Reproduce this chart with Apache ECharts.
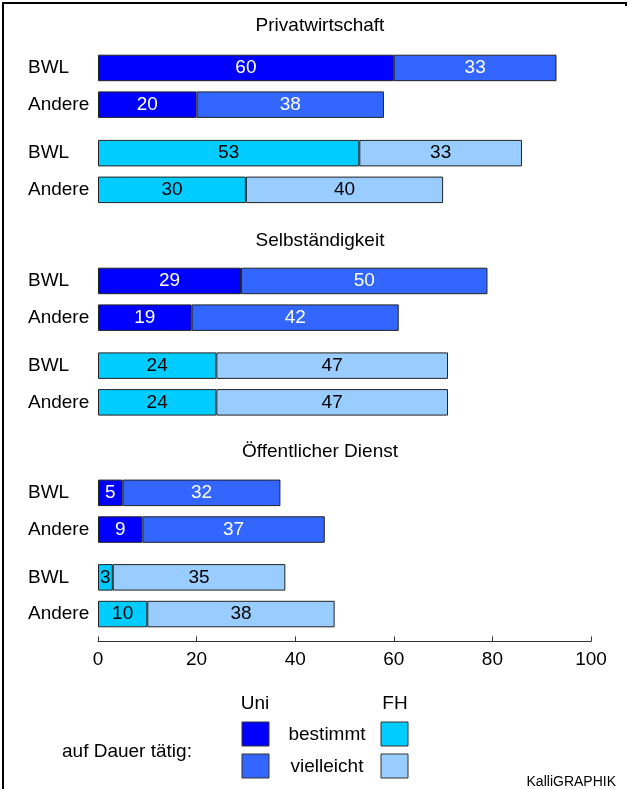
<!DOCTYPE html>
<html>
<head>
<meta charset="utf-8">
<script src="https://cdn.jsdelivr.net/npm/echarts@6/dist/echarts.min.js"></script>
<style>
  html, body { margin: 0; padding: 0; background: #fff; }
  #chart { width: 628px; height: 789px; }
</style>
</head>
<body>
<div id="chart"></div>
<script>
// Kategorien
const groupTitles = ['Privatwirtschaft', 'Selbständigkeit', 'Öffentlicher Dienst'];
const rowLabels = ['BWL', 'Andere'];

// Werte: je Gruppe BWL, Andere
const uniBestimmt   = [60, 20, 29, 19, 5, 9];
const uniVielleicht = [33, 38, 50, 42, 32, 37];
const fhBestimmt    = [53, 30, 24, 24, 3, 10];
const fhVielleicht  = [33, 40, 47, 47, 35, 38];

const xTicks = [0, 20, 40, 60, 80, 100];

const FONT = "'Liberation Sans', Arial, sans-serif";
const colors = {
  uniB: '#0000ff', uniV: '#3366ff',
  fhB: '#00ccff',  fhV: '#99ccff'
};

// panels: Uni-Paar und FH-Paar je Gruppe
const panelTops = [49.6, 134.8, 262.6, 347.3, 474.5, 559];
const panelH = 73.4;
const last = panelTops.length - 1;

let grids = [], xAxes = [], yAxes = [], series = [];
panelTops.forEach(function (top, i) {
  let g = Math.floor(i / 2);
  let fh = i % 2 === 1;
  grids.push({ left: 98, right: 37, top: top, height: panelH });
  xAxes.push({
    gridIndex: i, type: 'value',
    min: xTicks[0], max: xTicks[xTicks.length - 1], interval: 20,
    show: i === last, offset: 9,
    axisLine: { show: true, lineStyle: { color: '#333', width: 1 } },
    axisTick: { show: true, inside: true, length: 5, lineStyle: { color: '#333' } },
    axisLabel: { fontSize: 19, color: '#000', fontFamily: FONT, margin: 9 },
    splitLine: { show: false }
  });
  yAxes.push({
    gridIndex: i, type: 'category', data: rowLabels, inverse: true,
    axisLine: { show: false }, axisTick: { show: false },
    axisLabel: { align: 'left', margin: 70, fontSize: 19, color: '#000', fontFamily: FONT }
  });
  let b = (fh ? fhBestimmt : uniBestimmt).slice(2 * g, 2 * g + 2);
  let v = (fh ? fhVielleicht : uniVielleicht).slice(2 * g, 2 * g + 2);
  let lblColor = fh ? '#000' : '#fff';
  [[b, fh ? colors.fhB : colors.uniB], [v, fh ? colors.fhV : colors.uniV]].forEach(function (s) {
    series.push({
      type: 'bar', stack: 'p' + i, xAxisIndex: i, yAxisIndex: i,
      data: s[0], barWidth: 26.5,
      itemStyle: { color: s[1], borderColor: '#222', borderWidth: 1 },
      label: { show: true, position: 'inside', color: lblColor, fontSize: 19, fontFamily: FONT },
      animation: false
    });
  });
});

const titleY = [26, 241, 452];
let graphics = groupTitles.map(function (t, i) {
  return { type: 'text', x: 320, y: titleY[i],
    style: { text: t, fontSize: 19, fontFamily: FONT, fill: '#000', align: 'center', verticalAlign: 'middle' } };
});

function txt(t, x, y, align, size) {
  return { type: 'text', x: x, y: y,
    style: { text: t, fontSize: size || 19, fontFamily: FONT, fill: '#000', align: align, verticalAlign: 'middle' } };
}
function box(x, y, c) {
  return { type: 'rect', shape: { x: x, y: y, width: 27, height: 24 },
    style: { fill: c, stroke: '#333', lineWidth: 1 } };
}
graphics.push(
  txt('Uni', 255, 704, 'center'),
  txt('FH', 395, 704, 'center'),
  box(242, 722, colors.uniB), box(242, 754, colors.uniV),
  box(381, 722, colors.fhB), box(381, 754, colors.fhV),
  txt('bestimmt', 327, 735, 'center'),
  txt('vielleicht', 327, 767, 'center'),
  txt('auf Dauer tätig:', 62, 752, 'left'),
  txt('KalliGRAPHIK', 616, 782, 'right', 14),
  { type: 'polyline', shape: { points: [[3, 789], [3, 3], [626, 3], [626, 6]] },
    style: { stroke: '#000', lineWidth: 2, fill: null } }
);

let chart = echarts.init(document.getElementById('chart'));
chart.setOption({
  backgroundColor: '#fff',
  animation: false,
  grid: grids,
  xAxis: xAxes,
  yAxis: yAxes,
  series: series,
  graphic: graphics
});
</script>
</body>
</html>
